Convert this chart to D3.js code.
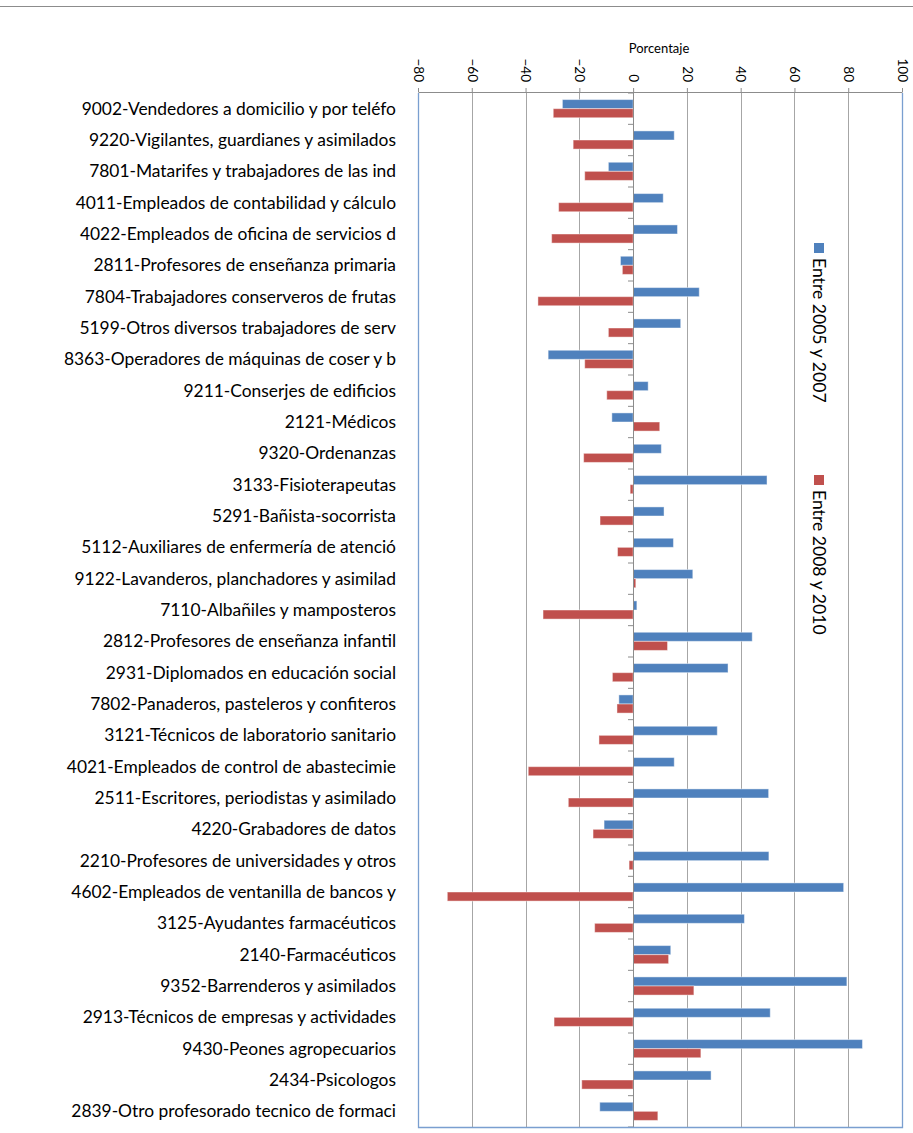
<!DOCTYPE html>
<html>
<head>
<meta charset="utf-8">
<script src="https://cdn.jsdelivr.net/npm/d3@7"></script>
<style>
    body { margin: 0; background: #fff; }
    svg { display: block; font-family: Lato, "Open Sans", sans-serif; }
</style>
</head>
<body>
<script>
// occupations, top to bottom
const categories = [
    "9002-Vendedores a domicilio y por teléfo",
    "9220-Vigilantes, guardianes y asimilados",
    "7801-Matarifes y trabajadores de las ind",
    "4011-Empleados de contabilidad y cálculo",
    "4022-Empleados de oficina de servicios d",
    "2811-Profesores de enseñanza primaria",
    "7804-Trabajadores conserveros de frutas",
    "5199-Otros diversos trabajadores de serv",
    "8363-Operadores de máquinas de coser y b",
    "9211-Conserjes de edificios",
    "2121-Médicos",
    "9320-Ordenanzas",
    "3133-Fisioterapeutas",
    "5291-Bañista-socorrista",
    "5112-Auxiliares de enfermería de atenció",
    "9122-Lavanderos, planchadores y asimilad",
    "7110-Albañiles y mamposteros",
    "2812-Profesores de enseñanza infantil",
    "2931-Diplomados en educación social",
    "7802-Panaderos, pasteleros y confiteros",
    "3121-Técnicos de laboratorio sanitario",
    "4021-Empleados de control de abastecimie",
    "2511-Escritores, periodistas y asimilado",
    "4220-Grabadores de datos",
    "2210-Profesores de universidades y otros",
    "4602-Empleados de ventanilla de bancos y",
    "3125-Ayudantes farmacéuticos",
    "2140-Farmacéuticos",
    "9352-Barrenderos y asimilados",
    "2913-Técnicos de empresas y actividades",
    "9430-Peones agropecuarios",
    "2434-Psicologos",
    "2839-Otro profesorado tecnico de formaci"
];

const entre_2005_2007 = [
    -26.3, 15.3, -9.2, 11.2, 16.5, -4.7, 24.6, 17.7, -31.6, 5.6, -7.9,
    10.5, 49.8, 11.5, 15.0, 22.2, 1.4, 44.3, 35.3, -5.3, 31.3, 15.3,
    50.4, -10.8, 50.5, 78.3, 41.4, 14.0, 79.5, 51.0, 85.3, 29.0, -12.4
];

const entre_2008_2010 = [
    -29.7, -22.3, -18.0, -27.7, -30.3, -4.0, -35.4, -9.2, -18.0, -9.8, 9.9,
    -18.4, -1.1, -12.3, -5.8, 1.0, -33.5, 12.8, -7.7, -6.0, -12.7, -39.0,
    -24.1, -14.9, -1.5, -69.1, -14.3, 13.2, 22.6, -29.4, 25.2, -19.1, 9.2
];

const series_names = ["Entre 2005 y 2007", "Entre 2008 y 2010"];
const series_colors = ["#4F81BD", "#C0504D"];
const x_ticks = [-80, -60, -40, -20, 0, 20, 40, 60, 80, 100];

const width = 913, height = 1133;
const plot = { left: 418, right: 902, top: 93, bottom: 1127 };

const svg = d3.select("body").append("svg")
    .attr("width", width)
    .attr("height", height);

// thin frame line at the very top
svg.append("line")
    .attr("x1", 0).attr("x2", width)
    .attr("y1", 6.5).attr("y2", 6.5)
    .attr("stroke", "#8c8c8c");

const x = d3.scaleLinear()
    .domain([-80, 100])
    .range([plot.left, plot.right]);

const y = d3.scaleBand()
    .domain(categories)
    .range([plot.top, plot.bottom])
    .paddingInner(0.42)
    .paddingOuter(0.21);

const ySub = d3.scaleBand()
    .domain([0, 1])
    .range([0, y.bandwidth()]);

// vertical gridlines
svg.append("g")
    .attr("class", "grid")
    .selectAll("line")
    .data(x_ticks.filter(d => d !== -80 && d !== 100))
    .enter().append("line")
    .attr("x1", d => Math.round(x(d)) + 0.5)
    .attr("x2", d => Math.round(x(d)) + 0.5)
    .attr("y1", plot.top)
    .attr("y2", plot.bottom)
    .attr("stroke", "#a6a6a6");

// top value axis
const xAxis = svg.append("g")
    .attr("class", "x_axis")
    .attr("transform", "translate(0," + (plot.top - 1) + ")")
    .call(d3.axisTop(x).tickValues(x_ticks).tickSize(4).tickSizeOuter(0).tickFormat(d3.format("d")));
xAxis.select(".domain").attr("stroke", "#8c8c8c");
xAxis.selectAll(".tick line").attr("stroke", "#8c8c8c");
xAxis.selectAll(".tick text")
    .attr("transform", "rotate(90)")
    .attr("x", -10)
    .attr("y", 0)
    .attr("dy", "0.35em")
    .attr("text-anchor", "end")
    .attr("font-size", 13.5)
    .attr("fill", "#000")
    .style("font-family", "Lato, sans-serif");

svg.append("text")
    .attr("x", 659)
    .attr("y", 53)
    .attr("text-anchor", "middle")
    .attr("font-size", 13)
    .text("Porcentaje");

// bars
const groups = svg.append("g")
    .attr("class", "bars")
    .selectAll("g")
    .data(categories)
    .enter().append("g")
    .attr("transform", d => "translate(0," + y(d) + ")");

groups.selectAll("rect")
    .data((d, i) => [entre_2005_2007[i], entre_2008_2010[i]])
    .enter().append("rect")
    .attr("x", d => x(Math.min(0, d)))
    .attr("width", d => Math.abs(x(d) - x(0)))
    .attr("y", (d, j) => ySub(j))
    .attr("height", ySub.bandwidth())
    .attr("fill", (d, j) => series_colors[j])
    .attr("stroke", "#ffffff")
    .attr("stroke-opacity", 0.45)
    .attr("stroke-width", 1);

// category axis on the zero line
const step = y.step();
const boundaries = d3.range(categories.length + 1).map(i => plot.top + i * step);
svg.append("line")
    .attr("x1", Math.round(x(0)) + 0.5).attr("x2", Math.round(x(0)) + 0.5)
    .attr("y1", plot.top).attr("y2", plot.bottom)
    .attr("stroke", "#8c8c8c");
svg.append("g")
    .selectAll("line")
    .data(boundaries)
    .enter().append("line")
    .attr("x1", Math.round(x(0)) - 5)
    .attr("x2", Math.round(x(0)) + 0.5)
    .attr("y1", d => d)
    .attr("y2", d => d)
    .attr("stroke", "#8c8c8c");

// plot area border (left, right, bottom)
svg.append("path")
    .attr("d", "M" + (plot.left + 0.5) + "," + plot.top +
        "V" + (plot.bottom + 0.5) + "H" + (plot.right + 0.5) + "V" + plot.top)
    .attr("fill", "none")
    .attr("stroke", "#7a9fd0")
    .attr("stroke-width", 1.3);

// category labels at the left
svg.append("g")
    .attr("class", "y_labels")
    .selectAll("text")
    .data(categories)
    .enter().append("text")
    .attr("x", 396)
    .attr("y", d => y(d) + y.bandwidth() / 2)
    .attr("dy", "0.35em")
    .attr("text-anchor", "end")
    .attr("font-size", 17.4)
    .text(d => d);

// legend, rotated
const legend_y = [243, 475];
const legend = svg.append("g")
    .attr("class", "legend")
    .selectAll("g")
    .data(series_names)
    .enter().append("g")
    .attr("transform", (d, i) => "translate(819," + legend_y[i] + ")");
legend.append("rect")
    .attr("x", -5).attr("y", 0)
    .attr("width", 10).attr("height", 10)
    .attr("fill", (d, i) => series_colors[i]);
legend.append("text")
    .attr("transform", "translate(0,15) rotate(90)")
    .attr("dy", "0.35em")
    .attr("font-size", 17.6)
    .text(d => d);
</script>
</body>
</html>
